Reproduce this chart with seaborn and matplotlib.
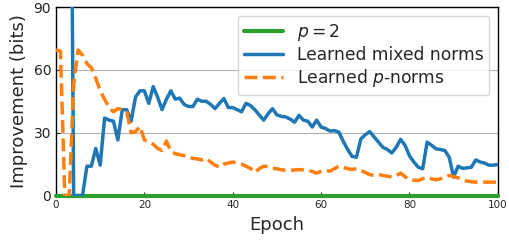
import matplotlib
matplotlib.use("Agg")
import matplotlib.pyplot as plt
import seaborn as sns

# epoch index for the two learned curves
epochs = list(range(101))

# learned mixed norms (first few epochs are far above the axis)
mixed_norms = [
    320, 310, 300, 290, 0, 0, 0, 14, 14, 22.5,
    14.5, 37, 36, 35.5, 26.5, 41, 41, 35.5, 47, 50,
    50, 44, 52, 47, 41, 46, 50, 46, 46.5, 43.5,
    42.5, 42.5, 46, 45, 45, 43.5, 41.5, 44, 46.3, 42,
    42, 41, 40, 44, 43, 41, 38.5, 36, 39, 41.5,
    38.5, 37.8, 37.5, 36.5, 35, 38.3, 36, 35.5, 32.7, 36,
    32.7, 32, 30.8, 31, 30.3, 26, 22, 18.7, 18.3, 27,
    29, 30.5, 28, 25.5, 23, 22, 20.3, 23, 26.8, 24,
    19, 16, 13.5, 12.8, 25.5, 24, 22.3, 22, 21.5, 18.3,
    8.8, 14, 13, 13.2, 13.5, 17, 16, 15.5, 14.5, 14.5,
    14.8,
]

# learned p-norms
p_norms = [
    69.5, 69, 0, 0, 53, 69.5, 67, 63, 61, 56,
    50, 46, 42, 40, 41.5, 41, 40, 30, 30.5, 33,
    26.5, 25.7, 24.5, 22.5, 21.5, 26, 21, 20, 19.5, 19,
    18.5, 17.7, 17.5, 17, 17.7, 16, 14.5, 13.5, 15, 15.5,
    16, 15.5, 15, 14, 13, 11, 12.8, 14, 13.8, 13,
    12.8, 12.3, 12, 12, 12.2, 12.4, 12.2, 12, 11.5, 10.7,
    11.5, 12, 11.6, 12.8, 14, 13.5, 12.8, 12.5, 12.8, 12,
    11, 10, 9.6, 10, 9.6, 9.2, 8.8, 9.5, 10.7, 9,
    7.5, 7.3, 7.2, 8, 8.8, 8, 7.5, 8, 8.8, 9.6,
    9, 8.5, 7.5, 6.9, 6.6, 6.4, 6.4, 6.4, 6.4, 6.4,
    6.4,
]

# baseline p = 2 stays flat at zero
p2_epochs = [0, 100]
p2_improvement = [0, 0]

y_ticks = [0, 30, 60, 90]
x_ticks = [0, 20, 40, 60, 80, 100]

sns.set_style("ticks", {
    "axes.edgecolor": "black",
    "xtick.direction": "in",
    "ytick.direction": "in",
})

fig, ax = plt.subplots(figsize=(5.09, 2.42), dpi=100)
fig.subplots_adjust(left=0.110, right=0.978, top=0.971, bottom=0.192)

sns.lineplot(x=p2_epochs, y=p2_improvement, ax=ax, color="#2ca02c",
             linewidth=3, label=r"$p = 2$", clip_on=False, zorder=2.6)
sns.lineplot(x=epochs, y=mixed_norms, ax=ax, color="#1f77b4",
             linewidth=2.5, label="Learned mixed norms", zorder=3)
sns.lineplot(x=epochs, y=p_norms, ax=ax, color="#ff7f0e", linestyle="--",
             linewidth=2.5, label=r"Learned $p$-norms", zorder=4)

ax.set_xlim(0, 100)
ax.set_ylim(0, 90)
ax.set_xticks(x_ticks)
ax.set_yticks(y_ticks)
ax.tick_params(axis="x", labelsize=7.5, length=3, width=0.8)
ax.tick_params(axis="y", labelsize=10, length=3, width=0.8)
ax.yaxis.grid(True, color="#b0b0b0", linewidth=0.8)
ax.set_axisbelow(True)

ax.set_xlabel("Epoch", fontsize=13)
ax.set_ylabel("Improvement (bits)", fontsize=13)

for spine in ax.spines.values():
    spine.set_visible(True)
    spine.set_linewidth(1.0)

ax.legend(loc="upper right", fontsize=12.3, labelspacing=0.2,
          handlelength=2.3, borderpad=0.35)

plt.savefig("out.png", dpi=100)
plt.close()
